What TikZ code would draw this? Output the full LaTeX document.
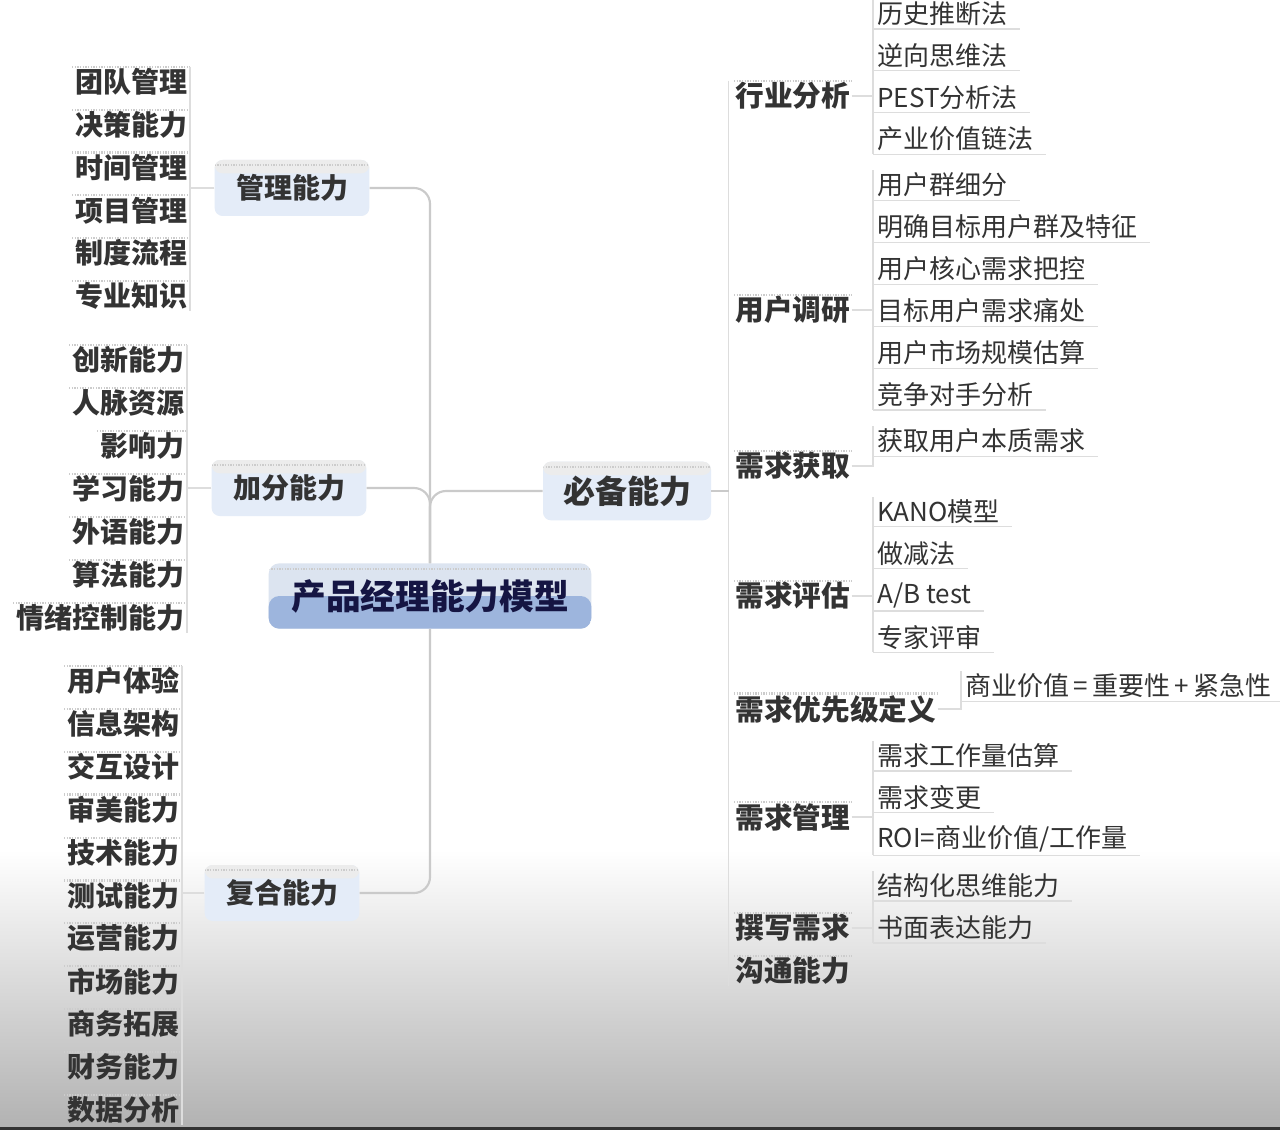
\documentclass[tikz,border=0pt]{standalone}
\usepackage{fontspec}
\setmainfont{Noto Sans CJK SC}
\usepackage{xcolor}
\usepackage{tikz}
\usetikzlibrary{positioning, calc}
\definecolor{ink}{HTML}{333333}
\definecolor{linkgray}{HTML}{CACACA}
\definecolor{leafgray}{HTML}{DDDDDD}
\definecolor{boxblue}{HTML}{E4ECF8}
\definecolor{rootblue}{HTML}{9DB5DD}
\definecolor{rootpale}{HTML}{DCE4F0}
\definecolor{floor}{HTML}{B2B2B2}

\begin{document}
\begin{tikzpicture}[x=0.75pt, y=-0.75pt,
    texture/.style={draw=gray!40, line width=1.6pt, dash pattern=on 1pt off 1pt},
    leafline/.style={draw=leafgray, line width=0.8pt},
    trunk/.style={draw=linkgray, line width=1.6pt, rounded corners=12pt},
    branch/.style={rounded corners=6pt, fill=boxblue, text=ink,
        font=\bfseries\fontsize{21}{24}\selectfont,
        minimum width=116pt, minimum height=42pt, inner sep=0pt,
        path picture={
            \fill[gray!15] (path picture bounding box.north west)
                rectangle ([yshift=-10pt]path picture bounding box.north east);
            \draw[texture] ([yshift=-4pt]path picture bounding box.north west)
                -- ([yshift=-4pt]path picture bounding box.north east);}},
    rootbox/.style={rounded corners=8pt, fill=rootpale, text=ink!70!blue!60!black,
        font=\bfseries\fontsize{26}{30}\selectfont,
        minimum width=242pt, minimum height=49pt, inner sep=0pt,
        path picture={
            \fill[rootblue] (path picture bounding box.west)
                rectangle (path picture bounding box.south east);
            \draw[texture] ([yshift=-4pt]path picture bounding box.north west)
                -- ([yshift=-4pt]path picture bounding box.north east);}},
    leafL/.style={anchor=east, text=ink, font=\bfseries\fontsize{21}{24}\selectfont,
        inner xsep=2pt, inner ysep=1pt},
    leafR/.style={anchor=west, text=ink, font=\fontsize{19.5}{23}\selectfont,
        inner xsep=3pt, inner ysep=2pt},
    rlabel/.style={anchor=west, text=ink, font=\bfseries\fontsize{21.5}{25}\selectfont,
        inner sep=1pt}]

    \useasboundingbox (0,0) rectangle (1280,1130);
    \fill[white] (0,0) rectangle (1280,1130);
    \shade[top color=white, bottom color=floor] (0,850) rectangle (1280,1127);
    \fill[black!80] (0,1127) rectangle (1280,1130);

    \node[rootbox] (root) at (430,596) {产品经理能力模型};

    \node[branch] (gl) at (292,188) {管理能力};
    \node[branch] (jf) at (289,488) {加分能力};
    \node[branch] (fh) at (282,893) {复合能力};
    \node[branch, minimum width=126pt, minimum height=44pt,
          font=\bfseries\fontsize{24}{28}\selectfont] (bb) at (627,491) {必备能力};

    \foreach \txt [count=\i] in {团队管理,决策能力,时间管理,项目管理,制度流程,专业知识}
        \node[leafL] (gl\i) at (190,{82+42.8*(\i-1)}) {\txt};
    \foreach \txt [count=\i] in {创新能力,人脉资源,影响力,学习能力,外语能力,算法能力,情绪控制能力}
        \node[leafL] (jf\i) at (187,{360+43*(\i-1)}) {\txt};
    \foreach \txt [count=\i] in {用户体验,信息架构,交互设计,审美能力,技术能力,测试能力,运营能力,市场能力,商务拓展,财务能力,数据分析}
        \node[leafL] (fh\i) at (182,{681+42.9*(\i-1)}) {\txt};

    \foreach \i in {1,...,6} \draw[texture] (gl\i.north west) -- (gl\i.north east);
    \foreach \i in {1,...,7} \draw[texture] (jf\i.north west) -- (jf\i.north east);
    \foreach \i in {1,...,11} \draw[texture] (fh\i.north west) -- (fh\i.north east);
    \draw[leafline] (gl1.north east) -- (gl6.south east);
    \draw[leafline] (jf1.north east) -- (jf7.south east);
    \draw[leafline] (fh1.north east) -- (fh11.south east);
    \draw[leafline] (gl.west) -- (gl.west -| gl1.east);
    \draw[leafline] (jf.west) -- (jf.west -| jf1.east);
    \draw[leafline] (fh.west) -- (fh.west -| fh1.east);

    \node[rlabel] (hy) at (734,96) {行业分析};
    \node[rlabel] (yd) at (734,310) {用户调研};
    \node[rlabel] (hq) at (734,466) {需求获取};
    \node[rlabel] (pg) at (734,596) {需求评估};
    \node[rlabel] (yx) at (734,709) {需求优先级定义};
    \node[rlabel] (xg) at (734,817) {需求管理};
    \node[rlabel] (zx) at (734,928) {撰写需求};
    \node[rlabel] (gt) at (734,971) {沟通能力};

    \foreach \txt [count=\i] in {历史推断法,逆向思维法,PEST分析法,产业价值链法}
        \node[leafR] (hy\i) at (873,{14+41.7*(\i-1)}) {\txt};
    \foreach \txt [count=\i] in {用户群细分,明确目标用户群及特征,用户核心需求把控,目标用户需求痛处,用户市场规模估算,竞争对手分析}
        \node[leafR] (yd\i) at (873,{185+42*(\i-1)}) {\txt};
    \node[leafR] (hq1) at (873,441) {获取用户本质需求};
    \foreach \txt [count=\i] in {KANO模型,做减法,A/B test,专家评审}
        \node[leafR] (pg\i) at (873,{512+41.7*(\i-1)}) {\txt};
    \node[leafR] (yx1) at (961,686) {商业价值\,=\,重要性\,+\,紧急性};
    \foreach \txt [count=\i] in {需求工作量估算,需求变更,ROI=商业价值/工作量}
        \node[leafR] (xg\i) at (873,{756+41.5*(\i-1)}) {\txt};
    \foreach \txt [count=\i] in {结构化思维能力,书面表达能力}
        \node[leafR] (zx\i) at (873,{886+42*(\i-1)}) {\txt};

    \foreach \g/\n in {hy/4,yd/6,hq/1,pg/4,yx/1,xg/3,zx/2} {
        \draw[texture] (\g.north west) -- (\g.north east);
        \foreach \i in {1,...,\n}
            \draw[leafline] (\g\i.south west) -- ([xshift=6pt]\g\i.south east);
        \draw[leafline] (\g.east) -| (\g1.north west);
        \draw[leafline] (\g.east) -| (\g\n.south west);
    }
    \draw[texture] (gt.north west) -- (gt.north east);

    \coordinate (rt) at ([xshift=-4pt]hy.north west);
    \coordinate (rb) at ([xshift=-4pt]gt.south west);
    \draw[leafline, line width=1.2pt] (rt) -- (rb);
    \draw[trunk] (bb.east) -- (bb.east -| rt);

    \draw[trunk] (gl.east) -| (root.north);
    \draw[trunk] (jf.east) -| (root.north);
    \draw[trunk] (bb.west) -| (root.north);
    \draw[trunk] (fh.east) -| (root.south);
\end{tikzpicture}
\end{document}
